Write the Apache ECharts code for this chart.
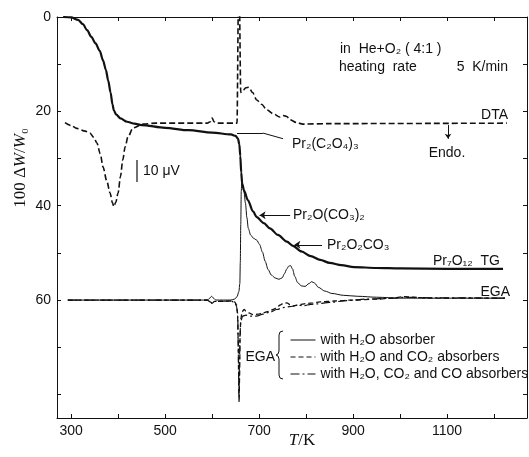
<!doctype html>
<html lang="en">
<head>
<meta charset="utf-8">
<title>TG / DTA / EGA</title>
<script src="https://cdn.jsdelivr.net/npm/echarts@6.0.0/dist/echarts.min.js"></script>
</head>
<body style="margin:0">
<div id="main" style="width:529px; height:457px;"></div>
<script type="text/javascript">
// points are [T in K, value on the 100 dW/W0 scale]
var tg = [[283,0],[300,0.1],[315,0.6],[325,1.5],[334,2.8],[343,4.2],[352,5.6],[361,7.2],[368,9.2],[374,11.2],[379,13.5],[384,16],[388,18.5],[391,19.8],[396,20.7],[405,21.5],[419,22.2],[435,22.6],[450,22.9],[500,23.5],[550,24],[600,24.5],[640,24.9],[650,25.2],[655,25.8],[658,27],[660,29.5],[662,33],[664,35.3],[668,36.8],[676,38.8],[687,41.2],[695,42.4],[710,43.7],[723,44.8],[740,46.2],[759,47.6],[772,48.5],[790,49.7],[810,50.7],[830,51.5],[850,52.1],[875,52.6],[902,53],[950,53.2],[1000,53.3],[1100,53.4],[1219,53.4]];
var dta = [[287,22.4],[300,23],[312,23.6],[330,24.2],[340,24.6],[348,25.5],[355,26.7],[362,29],[368,31.8],[376,34.8],[383,37.3],[388,39.4],[391,40.2],[395,39.3],[400,37.3],[405,33.8],[410,30.3],[415,27.5],[421,25.4],[432,23.5],[453,22.7],[480,22.5],[590,22.5],[596,22.2],[600,21.4],[604,22.2],[610,22.5],[653,22.5],[656,-3],[658,-3],[661,16],[666,15.5],[672,15],[678,14.9],[686,16],[695,17.6],[705,18.5],[717,19.7],[730,20.5],[744,21.2],[752,20.9],[759,21.1],[766,21.8],[780,22.4],[793,22.7],[850,22.6],[1227,22.5]];
var egaH2O = [[293,60],[590,60],[595,59.6],[599,59.2],[603,59.6],[608,60],[640,60],[648,59.8],[653,59.3],[657,58.2],[659,56.5],[660,52],[661,44],[662,37],[663,35],[665,35.8],[668,37.2],[671,39.5],[674,42.5],[677,44.8],[682,46.2],[688,46.9],[695,47.3],[701,48.2],[707,49.8],[713,51.8],[719,53.5],[726,54.7],[734,55.3],[742,55.6],[749,55.3],[754,54.4],[759,53.4],[763,52.8],[767,52.7],[771,53.4],[776,55],[782,56.3],[790,57],[798,57.1],[806,56.5],[812,56.1],[818,56.4],[826,57.3],[840,58.1],[855,58.6],[880,59],[910,59.2],[950,59.4],[1000,59.6],[1223,59.6]];
var egaH2OCO2 = [[293,60],[590,60],[596,60.4],[600,60.7],[605,60.3],[640,60.2],[648,60.4],[652,61],[654,62.5],[655.5,68],[656.5,76],[657.5,81.6],[658.5,76],[659.5,68],[661,64],[664,62.5],[668,62],[672,62.3],[678,62.7],[687,63.1],[698,63],[708,62.7],[720,62.4],[730,62],[738,61.6],[744,61.1],[752,60.7],[759,60.6],[766,61],[772,61.3],[780,61.1],[790,60.9],[802,60.7],[815,60.6],[830,60.4],[860,60.2],[900,60],[950,59.8],[985,59.6],[1006,59.3],[1030,59.4],[1057,59.6],[1223,59.6]];
var egaAll = [[293,60],[590,60],[596,60.4],[600,60.6],[605,60.3],[640,60.2],[648,60.5],[652,61.3],[654.5,63.5],[656,72],[657,80.5],[658,74],[659.5,67],[661,64.5],[665,63.4],[672,63.2],[682,63.4],[694,63.4],[708,63],[722,62.6],[738,62],[751,61.6],[765,61.4],[781,61.1],[795,61.2],[810,60.9],[823,60.8],[850,60.5],[887,60.1],[930,59.8],[985,59.6],[1010,59.4],[1040,59.5],[1223,59.6]];

var xLabels = [300, 500, 700, 900, 1100];
var xTicks = [300, 400, 500, 600, 700, 800, 900, 1000, 1100, 1200];
var yLabels = [0, 20, 40, 60];
var yTicks = [0, 10, 20, 30, 40, 50, 60, 70, 80];
var egaNames = ['with H\u2082O absorber', 'with H\u2082O and CO\u2082 absorbers', 'with H\u2082O, CO\u2082 and CO absorbers'];

var ink = '#111';
var sans = 'Liberation Sans';
var serif = 'Liberation Serif';

function plain(v) { return String(v); }
function frameX(pos, labels) {
    return {
        type: 'value', position: pos, min: 270, max: 1270,
        axisLine: { show: true, onZero: false, lineStyle: { color: ink, width: 1 } },
        axisTick: { show: true, inside: true, length: 4, customValues: xTicks, lineStyle: { color: ink } },
        axisLabel: { show: labels, customValues: xLabels, formatter: plain, margin: 6, color: ink, fontSize: 14, fontFamily: sans },
        splitLine: { show: false }
    };
}
function frameY(pos, labels) {
    return {
        type: 'value', position: pos, inverse: true, min: 0, max: 85,
        axisLine: { show: true, onZero: false, lineStyle: { color: ink, width: 1 } },
        axisTick: { show: true, inside: true, length: 4, customValues: yTicks, lineStyle: { color: ink } },
        axisLabel: { show: labels, customValues: yLabels, formatter: plain, margin: 6, color: ink, fontSize: 14, fontFamily: sans },
        splitLine: { show: false }
    };
}
function txt(x, y, s, align, extra) {
    var st = { text: s, x: 0, y: 0, fill: ink, font: '14px "' + sans + '"', align: align || 'left', verticalAlign: 'middle' };
    if (extra) for (var k in extra) st[k] = extra[k];
    return { type: 'text', x: x, y: y, silent: true, style: st };
}

var chartDom = document.getElementById('main');
var myChart = echarts.init(chartDom);
var option = {
    animation: false,
    backgroundColor: '#fff',
    grid: { left: 57, top: 17, right: 2, bottom: 39 },
    xAxis: [frameX('bottom', true), frameX('top', false)],
    yAxis: [frameY('left', true), frameY('right', false)],
    legend: {
        orient: 'vertical', left: 285, top: 328, selectedMode: false,
        itemWidth: 25, itemHeight: 14, itemGap: 3,
        itemStyle: { opacity: 0 },
        lineStyle: { width: 1 },
        textStyle: { color: ink, fontSize: 14, fontFamily: sans },
        data: egaNames
    },
    series: [
        {
            name: 'TG', type: 'line', data: tg, showSymbol: false, symbol: 'none', smooth: 0.3, smoothMonotone: 'x',
            lineStyle: { color: ink, width: 2.2 },
            markLine: {
                silent: true, symbol: ['none', 'none'], symbolSize: 6, label: { show: false },
                lineStyle: { color: ink, width: 1, type: 'solid' },
                data: [
                    [{ coord: [653, 24.6] }, { coord: [708, 24.6] }],
                    [{ coord: [708, 24.6] }, { coord: [751, 25.8] }],
                    [{ coord: [766, 42] }, { coord: [701, 42], symbol: 'arrow' }],
                    [{ coord: [834, 48.3] }, { coord: [775, 48.3], symbol: 'arrow' }]
                ]
            }
        },
        {
            name: 'DTA', type: 'line', data: dta, showSymbol: false, symbol: 'none', smooth: 0.3, smoothMonotone: 'x',
            lineStyle: { color: ink, width: 1.6, type: [6, 3] },
            markLine: {
                silent: true, symbol: ['none', 'arrow'], symbolSize: 5, label: { show: false },
                lineStyle: { color: ink, width: 1, type: 'solid' },
                data: [[{ coord: [1102, 22.9] }, { coord: [1102, 25.8] }]]
            }
        },
        {
            name: egaNames[0], type: 'line', data: egaH2O, showSymbol: false, symbol: 'none', smooth: 0.3, smoothMonotone: 'x',
            lineStyle: { color: ink, width: 1 }, itemStyle: { color: ink }
        },
        {
            name: egaNames[1], type: 'line', data: egaH2OCO2, showSymbol: false, symbol: 'none', smooth: 0.3, smoothMonotone: 'x',
            lineStyle: { color: ink, width: 1.3, type: [5, 3] }, itemStyle: { color: ink }
        },
        {
            name: egaNames[2], type: 'line', data: egaAll, showSymbol: false, symbol: 'none', smooth: 0.3, smoothMonotone: 'x',
            lineStyle: { color: ink, width: 1.2, type: [9, 3, 2, 3] }, itemStyle: { color: ink }
        }
    ],
    graphic: [
        txt(340, 49, 'in  He+O\u2082 ( 4:1 )'),
        txt(339, 67, 'heating  rate'),
        txt(508, 67, '5  K/min', 'right'),
        txt(508, 115, 'DTA', 'right'),
        txt(447, 153, 'Endo.', 'center'),
        txt(143, 171, '10 \u03bcV'),
        { type: 'line', silent: true, shape: { x1: 137, y1: 160, x2: 137, y2: 182 }, style: { stroke: ink, lineWidth: 1.2 } },
        txt(292, 144, 'Pr\u2082(C\u2082O\u2084)\u2083'),
        txt(293, 215, 'Pr\u2082O(CO\u2083)\u2082'),
        txt(327, 245, 'Pr\u2082O\u2082CO\u2083'),
        txt(500, 261, 'Pr\u2087O\u2081\u2082  TG', 'right'),
        txt(510, 292, 'EGA', 'right'),
        txt(275, 357, 'EGA', 'right'),
        {
            type: 'polyline', silent: true,
            shape: { points: [[283, 331], [280, 332], [279, 335], [279, 351], [278, 354], [276, 355], [278, 356], [279, 359], [279, 375], [280, 378], [283, 379]] },
            style: { stroke: ink, lineWidth: 1, fill: null }
        },
        txt(302, 441, '{i|T}/K', 'center', {
            font: '17px "' + serif + '"',
            rich: { i: { fontStyle: 'italic', fontSize: 17, fontFamily: serif, fill: ink } }
        }),
        {
            type: 'text', x: 21, y: 168, rotation: Math.PI / 2, silent: true,
            style: {
                text: '100 \u0394{i|W}/{i|W}\u2080', fill: ink, align: 'center', verticalAlign: 'middle',
                font: '17px "' + serif + '"',
                rich: { i: { fontStyle: 'italic', fontSize: 17, fontFamily: serif, fill: ink } }
            }
        }
    ]
};
myChart.setOption(option);
</script>
</body>
</html>
